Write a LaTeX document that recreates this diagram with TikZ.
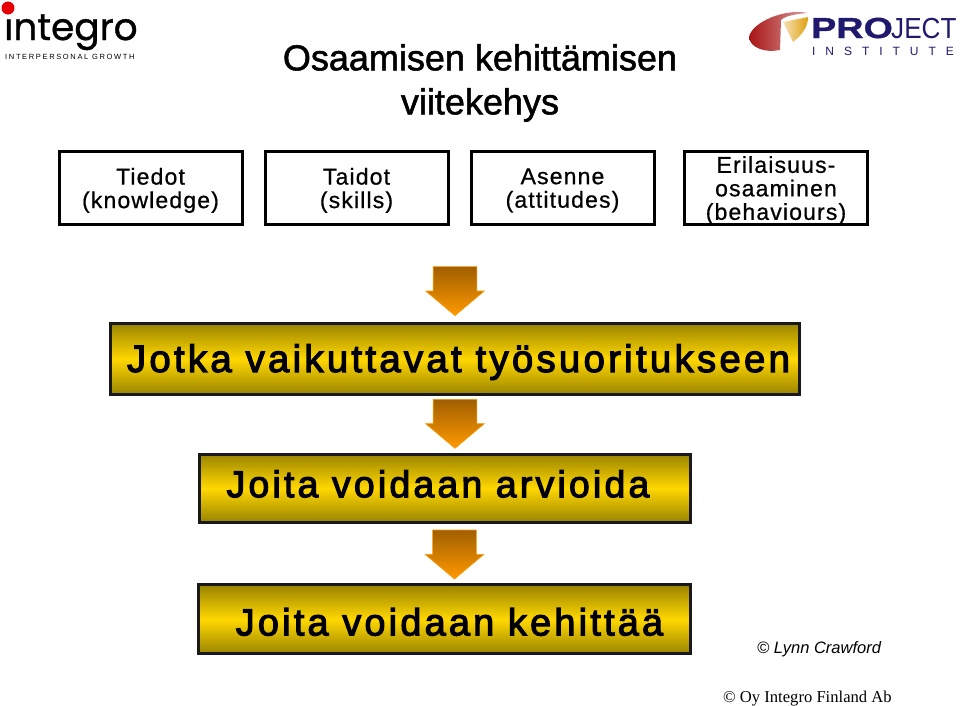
\documentclass[tikz,border=0pt]{standalone}
\usepackage{fontspec}
\setmainfont{Liberation Sans}
\newfontfamily\titlefont[FakeBold=1.5]{Liberation Sans}
\newfontfamily\topfont[LetterSpace=5,FakeBold=0.7]{Liberation Sans}
\newfontfamily\goldfont[LetterSpace=8.6,FakeBold=3]{Liberation Sans}
\newfontfamily\serifpart{Liberation Serif}
\newfontfamily\logofont[FakeBold=1]{Poppins}
\newfontfamily\logowide[LetterSpace=22]{Liberation Sans}
\newfontfamily\logoinst[LetterSpace=83]{Liberation Sans}
\newfontfamily\logopro[FakeStretch=1.3,FakeBold=1]{Liberation Sans}
\newfontfamily\logoject[FakeStretch=0.9]{Liberation Sans}
\usetikzlibrary{shapes.arrows, positioning}

\definecolor{goldDark}{HTML}{9A8400}
\definecolor{goldMid}{HTML}{FFD700}
\definecolor{arrowDark}{HTML}{A05F00}
\definecolor{arrowLight}{HTML}{FF9900}
\definecolor{logoNavy}{HTML}{1F1A6E}
\definecolor{logoRed}{HTML}{A81414}
\definecolor{logoGold}{HTML}{E0A010}

\begin{document}
\begin{tikzpicture}[
        x=1pt, y=-1pt,
        % Yläriville
        topbox/.style={
                rectangle,
                draw=black,
                line width=3pt,
                minimum width=183pt,
                minimum height=73pt,
                inner ysep=0pt,
                text depth=0pt,
                align=center,
                font=\topfont\fontsize{23}{23.5}\selectfont
            },
        % Kultaiset laatikot
        goldbox/.style={
                rectangle,
                draw=black!90,
                line width=3pt,
                top color=goldDark,
                bottom color=goldDark,
                middle color=goldMid,
                inner sep=0pt,
                font=\goldfont\fontsize{38}{40}\selectfont
            },
        % Nuolet
        blockarrow/.style={
                single arrow,
                shape border rotate=270,
                draw=arrowLight,
                line width=0.6pt,
                top color=arrowDark,
                bottom color=arrowLight,
                inner sep=0pt,
                text width=43pt,
                minimum width=57.5pt,
                minimum height=49pt,
                single arrow tip angle=100,
                single arrow head extend=7.5pt,
                single arrow head indent=0pt
            },
        % Alaviitteet
        notetext/.style={inner sep=0pt, anchor=base west}
    ]

    \useasboundingbox (0,0) rectangle (960,705);

    % OTSIKKO
    \node[align=center, font=\titlefont\fontsize{36}{44}\selectfont] (otsikko) at (480,83) {Osaamisen kehittämisen\\viitekehys};

    % YLÄRIVI
    \node[topbox] (tiedot) at (150.5,188) {Tiedot\\(knowledge)};
    \node[topbox, right=20pt of tiedot] (taidot) {Taidot\\(skills)};
    \node[topbox, right=20pt of taidot] (asenne) {Asenne\\(attitudes)};
    \node[topbox, right=27.5pt of asenne] (erilaisuus) {Erilaisuus-\\osaaminen\\(behaviours)};

    % KULTAISET LAATIKOT JA NUOLET
    \node[goldbox, minimum width=689pt, minimum height=71pt, text height=27pt, text depth=1pt, font=\goldfont\fontsize{38.3}{40}\selectfont] (jotka) at (455,359) {\hspace*{7pt}Jotka vaikuttavat työsuoritukseen};
    \node[blockarrow, above=6pt of jotka] (nuoliYksi) {};
    \node[blockarrow, below=3pt of jotka] (nuoliKaksi) {};
    \node[goldbox, minimum width=491pt, minimum height=68pt, text height=27pt, text depth=9pt, below=4pt of nuoliKaksi, xshift=-10pt, font=\goldfont\fontsize{37.4}{40}\selectfont] (arvioida) {\hspace*{-14pt}Joita voidaan arvioida};
    \node[blockarrow, below=6pt of arvioida, xshift=9.5pt] (nuoliKolme) {};
    \node[goldbox, minimum width=491pt, minimum height=69pt, text height=33pt, text depth=1pt, below=4pt of nuoliKolme, xshift=-10pt, font=\goldfont\fontsize{37.8}{40}\selectfont] (kehittaa) {\hspace*{10pt}Joita voidaan kehittää};

    % ALAVIITTEET
    \node[notetext, font=\itshape\fontsize{16.5}{18}\selectfont] (crawford) at (757,653) {© Lynn Crawford};
    \node[notetext, font=\serifpart\fontsize{16.6}{19}\selectfont] (oyintegro) at (723,702) {© Oy Integro Finland Ab};

    % LOGO VASEMMALLA
    \node[anchor=base west, inner sep=0pt, font=\logofont\fontsize{37.5}{38}\selectfont, black] (integro) at (4,40) {integro};
    \fill[white] (2,9) rectangle (16,18.8);
    \fill[red!90!black] (8,8) circle (6.5);
    \node[anchor=base west, inner sep=0pt, font=\logowide\fontsize{7.5}{8}\selectfont] (kasvu) at (5,59) {INTERPERSONAL GROWTH};

    % LOGO OIKEALLA
    \shade[left color=logoRed, middle color=logoRed, right color=logoRed!40] (749,37) .. controls (752,22) and (785,8) .. (808,13) .. controls (795,14) and (785,16) .. (781,20) -- (780,50) .. controls (765,53) and (750,48) .. (749,37) -- cycle;
    \shade[left color=logoGold!30, right color=logoGold] (783,22) -- (808,17) .. controls (808,27) and (802,35) .. (793,42) -- cycle;
    \node[anchor=base west, inner sep=0pt, font=\logopro\bfseries\fontsize{29}{29}\selectfont, text=logoNavy] (pro) at (811,38) {PRO};
    \node[anchor=base west, inner sep=0pt, font=\logoject\fontsize{29}{29}\selectfont, text=logoNavy] (ject) at (891,38) {JECT};
    \node[anchor=base west, inner sep=0pt, font=\logoinst\fontsize{12}{12}\selectfont, text=logoNavy] (institute) at (812,55) {INSTITUTE};

\end{tikzpicture}
\end{document}
